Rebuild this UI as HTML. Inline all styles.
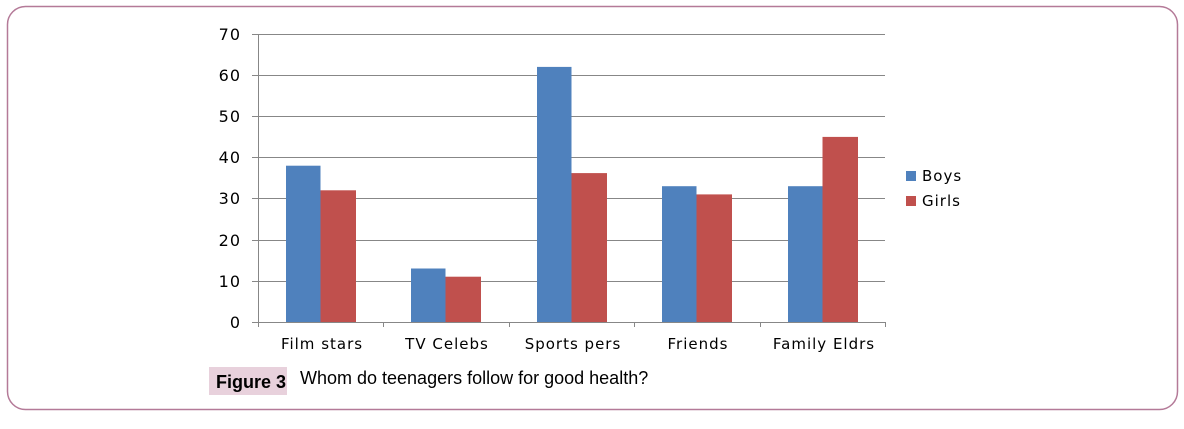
<!DOCTYPE html>
<html><head><style>
body{margin:0;background:#fff;width:1184px;height:425px;overflow:hidden;font-family:"DejaVu Sans","Liberation Sans",sans-serif}
</style></head><body>
<svg width="1184" height="425" xmlns="http://www.w3.org/2000/svg">
<rect x="7.5" y="6.5" width="1170" height="403" rx="18" fill="none" stroke="#b47a98" stroke-width="1.5"/>
<g stroke="#878787" stroke-width="1">
<line x1="252" y1="34.5" x2="885" y2="34.5"/>
<line x1="252" y1="75.5" x2="885" y2="75.5"/>
<line x1="252" y1="116.5" x2="885" y2="116.5"/>
<line x1="252" y1="157.5" x2="885" y2="157.5"/>
<line x1="252" y1="198.5" x2="885" y2="198.5"/>
<line x1="252" y1="240.5" x2="885" y2="240.5"/>
<line x1="252" y1="281.5" x2="885" y2="281.5"/>
<line x1="258.5" y1="34" x2="258.5" y2="322"/>
</g>
<g>
<rect x="286" y="165.7" width="34.5" height="156.3" fill="#4f81bd"/>
<rect x="320.5" y="190.3" width="35.5" height="131.7" fill="#c0504d"/>
<rect x="411" y="268.5" width="34.5" height="53.5" fill="#4f81bd"/>
<rect x="445.5" y="276.7" width="35.5" height="45.3" fill="#c0504d"/>
<rect x="537" y="66.9" width="34.5" height="255.1" fill="#4f81bd"/>
<rect x="571.5" y="173.1" width="35.5" height="148.9" fill="#c0504d"/>
<rect x="662" y="186.2" width="34.5" height="135.8" fill="#4f81bd"/>
<rect x="696.5" y="194.4" width="35.5" height="127.6" fill="#c0504d"/>
<rect x="788" y="186.2" width="34.5" height="135.8" fill="#4f81bd"/>
<rect x="822.5" y="136.9" width="35.5" height="185.1" fill="#c0504d"/>
</g>
<g stroke="#878787" stroke-width="1">
<line x1="252" y1="322.5" x2="885" y2="322.5"/>
<line x1="258.5" y1="322" x2="258.5" y2="327"/>
<line x1="383.5" y1="322" x2="383.5" y2="327"/>
<line x1="509.5" y1="322" x2="509.5" y2="327"/>
<line x1="634.5" y1="322" x2="634.5" y2="327"/>
<line x1="760.5" y1="322" x2="760.5" y2="327"/>
<line x1="885.5" y1="322" x2="885.5" y2="327"/>
</g>
<g font-size="16" fill="#000" text-anchor="end" letter-spacing="1">
<text x="241" y="40">70</text><text x="241" y="81">60</text><text x="241" y="122">50</text>
<text x="241" y="163">40</text><text x="241" y="204">30</text><text x="241" y="246">20</text>
<text x="241" y="287">10</text><text x="241" y="328">0</text>
</g>
<g font-size="15" fill="#000" text-anchor="middle" letter-spacing="1">
<text x="322" y="349">Film stars</text><text x="447" y="349">TV Celebs</text>
<text x="573" y="349">Sports pers</text><text x="698" y="349">Friends</text>
<text x="824" y="349">Family Eldrs</text>
</g>
<rect x="906" y="171" width="10" height="10" fill="#4f81bd"/>
<rect x="906" y="196" width="10" height="10" fill="#c0504d"/>
<text x="922" y="181" font-size="15" letter-spacing="1">Boys</text>
<text x="922" y="206" font-size="15" letter-spacing="1">Girls</text>
<rect x="209" y="367" width="78" height="28" fill="#e8d1dc"/>
<text x="216" y="388" font-family="Liberation Sans, sans-serif" font-size="18" font-weight="bold">Figure 3</text>
<text x="300" y="384" font-family="Liberation Sans, sans-serif" font-size="18">Whom do teenagers follow for good health?</text>
</svg>
</body></html>
